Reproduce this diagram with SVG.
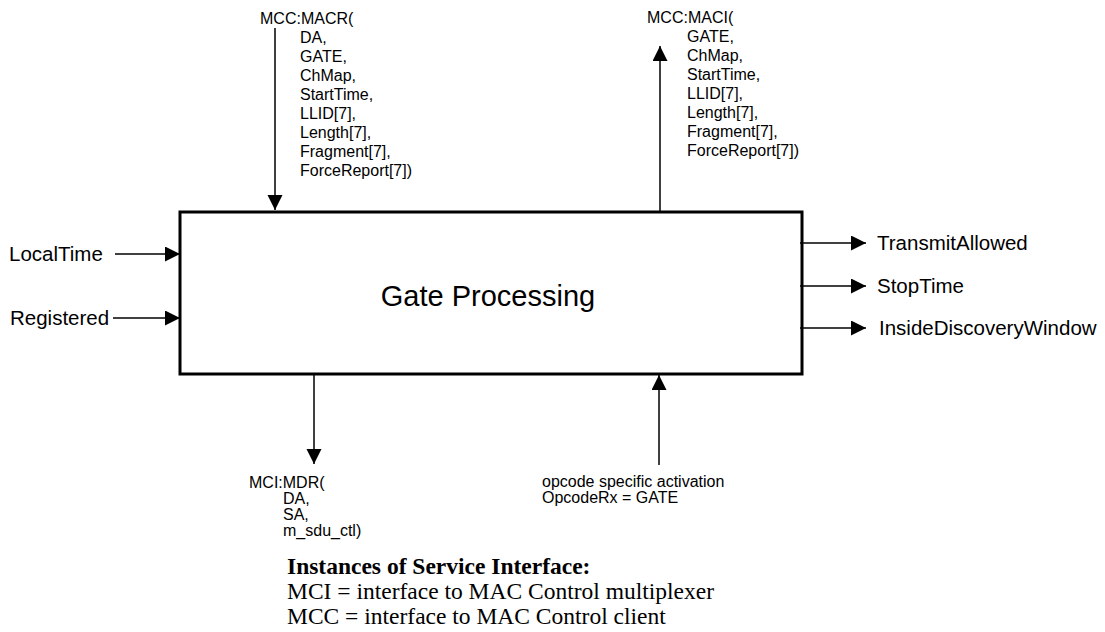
<svg xmlns="http://www.w3.org/2000/svg" width="1105" height="632" viewBox="0 0 1105 632">
  <style>
    .sans { font-family: "Liberation Sans", Arial, sans-serif; fill: #000; }
    .lbl { font-size: 20.5px; }
    .par { font-size: 16px; }
    .title { font-size: 29px; }
    .serif { font-family: "Liberation Serif", "Times New Roman", serif; font-size: 23.5px; fill: #000; }
    .bold { font-weight: bold; }
    .wire { stroke: #000; stroke-width: 1.5; fill: none; marker-end: url(#arrow); }
  </style>
  <defs>
    <marker id="arrow" markerUnits="userSpaceOnUse" markerWidth="16" markerHeight="16" refX="15" refY="7.5" orient="auto">
      <path d="M0,0 L15,7.5 L0,15 z" fill="#000"/>
    </marker>
  </defs>

  <rect width="1105" height="632" fill="#fff"/>

  <!-- main function block -->
  <g id="gate-processing">
    <rect x="180" y="212" width="622" height="162" fill="#fff" stroke="#000" stroke-width="3"/>
    <text class="sans title" x="488" y="306" text-anchor="middle">Gate Processing</text>
  </g>

  <!-- signals in and out of the block -->
  <g id="connectors">
    <line class="wire" x1="275" y1="28" x2="275" y2="210"/>
    <line class="wire" x1="660" y1="211" x2="660" y2="46"/>
    <line class="wire" x1="314" y1="375" x2="314" y2="464"/>
    <line class="wire" x1="659" y1="465" x2="659" y2="375"/>
    <line class="wire" x1="115" y1="254" x2="180" y2="254"/>
    <line class="wire" x1="113" y1="318" x2="180" y2="318"/>
    <line class="wire" x1="800" y1="243" x2="866" y2="243"/>
    <line class="wire" x1="800" y1="286" x2="866" y2="286"/>
    <line class="wire" x1="800" y1="328" x2="866" y2="328"/>
  </g>

  <g id="macr-request">
    <text class="sans par" x="260" y="24">MCC:MACR(</text>
    <text class="sans par" x="300" y="43">DA,</text>
    <text class="sans par" x="300" y="62">GATE,</text>
    <text class="sans par" x="300" y="81">ChMap,</text>
    <text class="sans par" x="300" y="100">StartTime,</text>
    <text class="sans par" x="300" y="119">LLID[7],</text>
    <text class="sans par" x="300" y="138">Length[7],</text>
    <text class="sans par" x="300" y="157">Fragment[7],</text>
    <text class="sans par" x="300" y="176">ForceReport[7])</text>
  </g>

  <g id="maci-indication">
    <text class="sans par" x="647" y="23">MCC:MACI(</text>
    <text class="sans par" x="687" y="42">GATE,</text>
    <text class="sans par" x="687" y="61">ChMap,</text>
    <text class="sans par" x="687" y="80">StartTime,</text>
    <text class="sans par" x="687" y="99">LLID[7],</text>
    <text class="sans par" x="687" y="118">Length[7],</text>
    <text class="sans par" x="687" y="137">Fragment[7],</text>
    <text class="sans par" x="687" y="156">ForceReport[7])</text>
  </g>

  <g id="mdr-request">
    <text class="sans par" x="249" y="488">MCI:MDR(</text>
    <text class="sans par" x="283" y="504">DA,</text>
    <text class="sans par" x="283" y="520">SA,</text>
    <text class="sans par" x="283" y="536">m_sdu_ctl)</text>
  </g>

  <g id="opcode-activation">
    <text class="sans par" x="542" y="487">opcode specific activation</text>
    <text class="sans par" x="542" y="503">OpcodeRx = GATE</text>
  </g>

  <g id="local-time">
    <text class="sans lbl" x="9" y="261">LocalTime</text>
  </g>
  <g id="registered">
    <text class="sans lbl" x="10" y="325">Registered</text>
  </g>
  <g id="transmit-allowed">
    <text class="sans lbl" x="877" y="250">TransmitAllowed</text>
  </g>
  <g id="stop-time">
    <text class="sans lbl" x="877" y="293">StopTime</text>
  </g>
  <g id="inside-discovery-window">
    <text class="sans lbl" x="879" y="335">InsideDiscoveryWindow</text>
  </g>

  <g id="legend">
    <text class="serif bold" x="287" y="574">Instances of Service Interface:</text>
    <text class="serif" x="287" y="599">MCI = interface to MAC Control multiplexer</text>
    <text class="serif" x="287" y="624">MCC = interface to MAC Control client</text>
  </g>
</svg>
